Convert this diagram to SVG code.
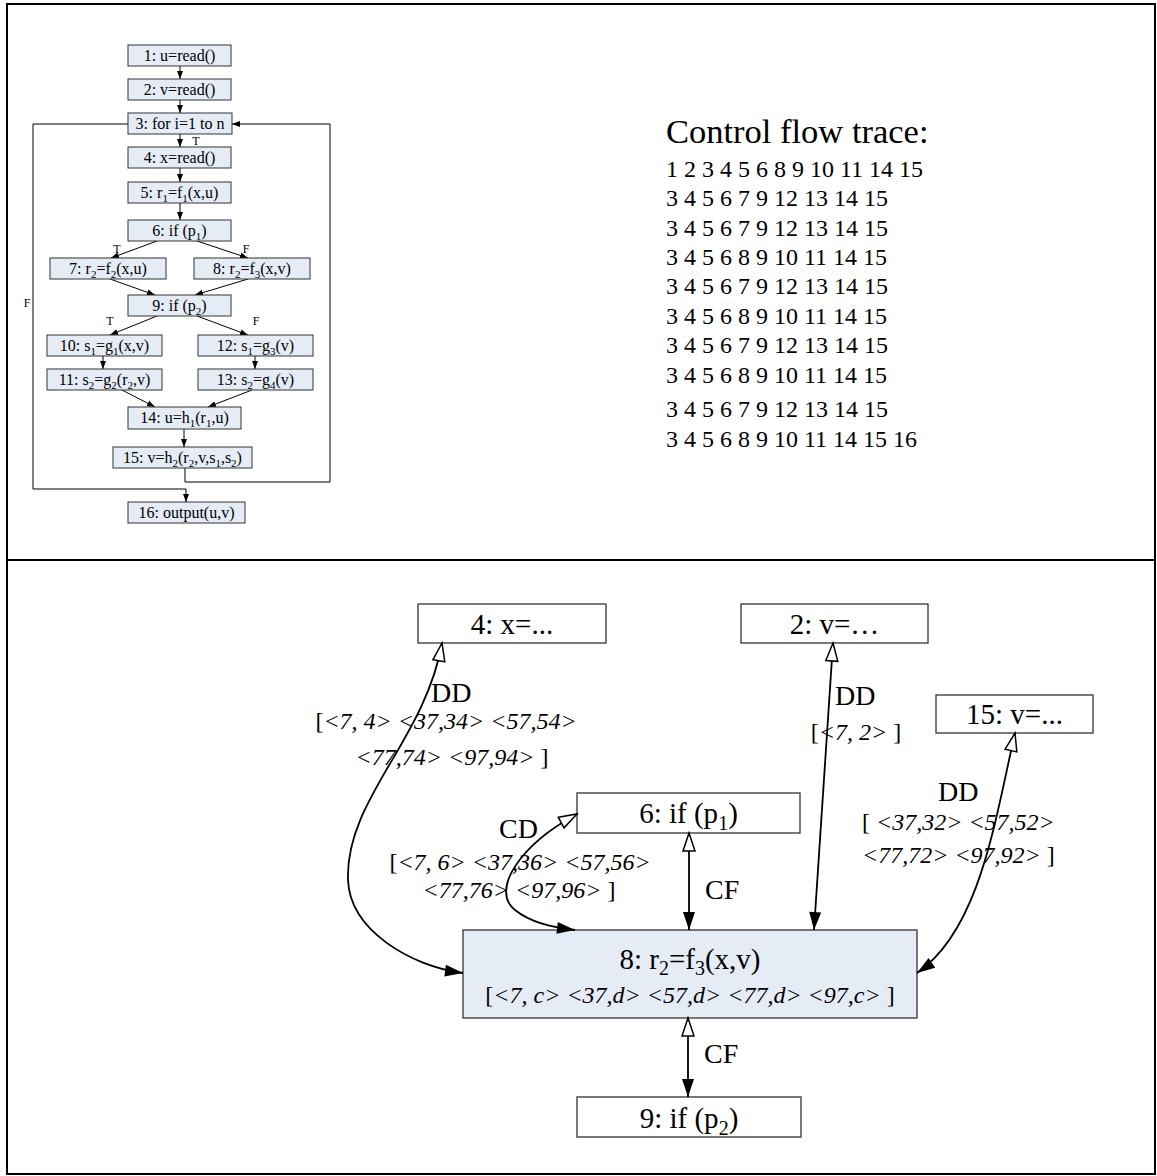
<svg xmlns="http://www.w3.org/2000/svg" width="1157" height="1176" viewBox="0 0 1157 1176" font-family="'Liberation Serif', 'DejaVu Serif', serif">
<style>
.bg{fill:#fff}
.frame{stroke:#000;stroke-width:2;fill:none}
.fb{fill:#e6ecf6;stroke:#333;stroke-width:1}
.ft{font-family:"Liberation Serif","DejaVu Serif",serif;font-size:16px;text-anchor:middle;fill:#000}
.fl{font-family:"Liberation Serif","DejaVu Serif",serif;font-size:12px;text-anchor:middle;fill:#000}
.fe{stroke:#000;stroke-width:1;fill:none;marker-end:url(#sa)}
.tr{font-family:"Liberation Serif","DejaVu Serif",serif;font-size:24px;fill:#000}
.th{font-family:"Liberation Serif","DejaVu Serif",serif;font-size:34.5px;fill:#000}
.wb{fill:#fff;stroke:#333;stroke-width:1.3}
.hb{fill:#e6ecf6;stroke:#333;stroke-width:1.3}
.bt{font-family:"Liberation Serif","DejaVu Serif",serif;font-size:29px;text-anchor:middle;fill:#000}
.lb{font-family:"Liberation Serif","DejaVu Serif",serif;font-size:28px;fill:#000}
.it{font-family:"Liberation Serif","DejaVu Serif",serif;font-size:24px;fill:#000}
.i{font-style:italic}
.ce{stroke:#000;stroke-width:1.8;fill:none;marker-start:url(#ho);marker-end:url(#fi)}
</style>
<defs>
<marker id="sa" markerUnits="userSpaceOnUse" markerWidth="8" markerHeight="8" viewBox="0 0 8 8" refX="8" refY="4" orient="auto"><path d="M0,1 L8,4 L0,7 z" fill="#000"/></marker>
<marker id="fi" markerUnits="userSpaceOnUse" markerWidth="20" markerHeight="14" viewBox="0 0 20 14" refX="19" refY="7" orient="auto"><path d="M1,1 L19,7 L1,13 z" fill="#000"/></marker>
<marker id="ho" markerUnits="userSpaceOnUse" markerWidth="22" markerHeight="16" viewBox="0 0 22 16" refX="20" refY="8" orient="auto-start-reverse"><path d="M2,2 L20,8 L2,14 z" fill="#fff" stroke="#000" stroke-width="1.5"/></marker>
</defs>
<rect class="bg" x="0" y="0" width="1157" height="1176"/>
<g id="frame">
<rect class="frame" x="7" y="4" width="1148" height="1170"/>
<line class="frame" x1="7" y1="560" x2="1155" y2="560"/>
</g>

<!-- top-left flowchart -->
<g id="flow-edges">
<line class="fe" x1="180" y1="66" x2="180" y2="79"/>
<line class="fe" x1="180" y1="100" x2="180" y2="113"/>
<line class="fe" x1="180" y1="134" x2="180" y2="147"/>
<line class="fe" x1="180" y1="168" x2="180" y2="182"/>
<line class="fe" x1="180" y1="203" x2="180" y2="220"/>
<line class="fe" x1="157" y1="241" x2="111" y2="258"/>
<line class="fe" x1="197" y1="241" x2="248" y2="258"/>
<line class="fe" x1="110" y1="279" x2="155" y2="295"/>
<line class="fe" x1="248" y1="279" x2="195" y2="295"/>
<line class="fe" x1="157" y1="316" x2="110" y2="335"/>
<line class="fe" x1="197" y1="316" x2="248" y2="335"/>
<line class="fe" x1="103" y1="356" x2="103" y2="369"/>
<line class="fe" x1="255" y1="356" x2="255" y2="369"/>
<line class="fe" x1="122" y1="390" x2="155" y2="407"/>
<line class="fe" x1="252" y1="390" x2="208" y2="407"/>
<line class="fe" x1="184" y1="429" x2="184" y2="447"/>
<polyline class="fe" points="185,468 185,482 330,482 330,124 232,124"/>
<polyline class="fe" points="128,124 33,124 33,489 186,489 186,502"/>
<text class="fl" x="196" y="145">T</text>
<text class="fl" x="117" y="253">T</text>
<text class="fl" x="246" y="253">F</text>
<text class="fl" x="110" y="325">T</text>
<text class="fl" x="256" y="325">F</text>
<text class="fl" x="27" y="307">F</text>
</g>
<g id="f1"><rect class="fb" x="128" y="45" width="103" height="21"/><text class="ft" x="179.5" y="61">1: u=read()</text></g>
<g id="f2"><rect class="fb" x="128" y="79" width="103" height="21"/><text class="ft" x="179.5" y="95">2: v=read()</text></g>
<g id="f3"><rect class="fb" x="128" y="113" width="104" height="21"/><text class="ft" x="180" y="129">3: for i=1 to n</text></g>
<g id="f4"><rect class="fb" x="128" y="147" width="103" height="21"/><text class="ft" x="179.5" y="163">4: x=read()</text></g>
<g id="f5"><rect class="fb" x="128" y="182" width="103" height="21"/><text class="ft" x="179.5" y="198">5: r<tspan dy="4" font-size="11">1</tspan><tspan dy="-4">=f</tspan><tspan dy="4" font-size="11">1</tspan><tspan dy="-4">(x,u)</tspan></text></g>
<g id="f6"><rect class="fb" x="128" y="220" width="103" height="21"/><text class="ft" x="179.5" y="236">6: if (p<tspan dy="4" font-size="11">1</tspan><tspan dy="-4">)</tspan></text></g>
<g id="f7"><rect class="fb" x="50" y="258" width="116" height="21"/><text class="ft" x="108" y="274">7: r<tspan dy="4" font-size="11">2</tspan><tspan dy="-4">=f</tspan><tspan dy="4" font-size="11">2</tspan><tspan dy="-4">(x,u)</tspan></text></g>
<g id="f8"><rect class="fb" x="194" y="258" width="116" height="21"/><text class="ft" x="252" y="274">8: r<tspan dy="4" font-size="11">2</tspan><tspan dy="-4">=f</tspan><tspan dy="4" font-size="11">3</tspan><tspan dy="-4">(x,v)</tspan></text></g>
<g id="f9"><rect class="fb" x="128" y="295" width="103" height="21"/><text class="ft" x="179.5" y="311">9: if (p<tspan dy="4" font-size="11">2</tspan><tspan dy="-4">)</tspan></text></g>
<g id="f10"><rect class="fb" x="47" y="335" width="115" height="21"/><text class="ft" x="104.5" y="351">10: s<tspan dy="4" font-size="11">1</tspan><tspan dy="-4">=g</tspan><tspan dy="4" font-size="11">1</tspan><tspan dy="-4">(x,v)</tspan></text></g>
<g id="f11"><rect class="fb" x="47" y="369" width="115" height="21"/><text class="ft" x="104.5" y="385">11: s<tspan dy="4" font-size="11">2</tspan><tspan dy="-4">=g</tspan><tspan dy="4" font-size="11">2</tspan><tspan dy="-4">(r</tspan><tspan dy="4" font-size="11">2</tspan><tspan dy="-4">,v)</tspan></text></g>
<g id="f12"><rect class="fb" x="198" y="335" width="115" height="21"/><text class="ft" x="255.5" y="351">12: s<tspan dy="4" font-size="11">1</tspan><tspan dy="-4">=g</tspan><tspan dy="4" font-size="11">3</tspan><tspan dy="-4">(v)</tspan></text></g>
<g id="f13"><rect class="fb" x="198" y="369" width="115" height="21"/><text class="ft" x="255.5" y="385">13: s<tspan dy="4" font-size="11">2</tspan><tspan dy="-4">=g</tspan><tspan dy="4" font-size="11">4</tspan><tspan dy="-4">(v)</tspan></text></g>
<g id="f14"><rect class="fb" x="128" y="407" width="113" height="22"/><text class="ft" x="184.5" y="423">14: u=h<tspan dy="4" font-size="11">1</tspan><tspan dy="-4">(r</tspan><tspan dy="4" font-size="11">1</tspan><tspan dy="-4">,u)</tspan></text></g>
<g id="f15"><rect class="fb" x="113" y="447" width="139" height="21"/><text class="ft" x="182.5" y="463">15: v=h<tspan dy="4" font-size="11">2</tspan><tspan dy="-4">(r</tspan><tspan dy="4" font-size="11">2</tspan><tspan dy="-4">,v,s</tspan><tspan dy="4" font-size="11">1</tspan><tspan dy="-4">,s</tspan><tspan dy="4" font-size="11">2</tspan><tspan dy="-4">)</tspan></text></g>
<g id="f16"><rect class="fb" x="128" y="502" width="117" height="21"/><text class="ft" x="186.5" y="518">16: output(u,v)</text></g>

<!-- trace -->
<g id="trace">
<text class="th" x="666" y="143">Control flow trace:</text>
<text class="tr" x="666" y="177">1 2 3 4 5 6 8 9 10 11 14 15</text>
<text class="tr" x="666" y="206">3 4 5 6 7 9 12 13 14 15</text>
<text class="tr" x="666" y="236">3 4 5 6 7 9 12 13 14 15</text>
<text class="tr" x="666" y="265">3 4 5 6 8 9 10 11 14 15</text>
<text class="tr" x="666" y="294">3 4 5 6 7 9 12 13 14 15</text>
<text class="tr" x="666" y="324">3 4 5 6 8 9 10 11 14 15</text>
<text class="tr" x="666" y="353">3 4 5 6 7 9 12 13 14 15</text>
<text class="tr" x="666" y="383">3 4 5 6 8 9 10 11 14 15</text>
<text class="tr" x="666" y="417">3 4 5 6 7 9 12 13 14 15</text>
<text class="tr" x="666" y="447">3 4 5 6 8 9 10 11 14 15 16</text>
</g>

<!-- bottom graph -->
<g id="n4"><rect class="wb" x="418" y="604" width="188" height="39"/><text class="bt" x="512" y="634">4: x=...</text></g>
<g id="n2"><rect class="wb" x="741" y="604" width="187" height="39"/><text class="bt" x="834.5" y="634">2: v=…</text></g>
<g id="n15"><rect class="wb" x="936" y="695" width="157" height="38"/><text class="bt" x="1014.5" y="724">15: v=...</text></g>
<g id="n6"><rect class="wb" x="577" y="793" width="223" height="40"/><text class="bt" x="688.5" y="823">6: if (p<tspan dy="7" font-size="20">1</tspan><tspan dy="-7">)</tspan></text></g>
<g id="n8"><rect class="hb" x="463" y="930" width="454" height="88"/>
<text class="bt" x="690" y="969" font-size="30">8: r<tspan dy="6" font-size="20">2</tspan><tspan dy="-6">=f</tspan><tspan dy="6" font-size="20">3</tspan><tspan dy="-6">(x,v)</tspan></text>
<text class="it" x="690" y="1003" text-anchor="middle" font-size="25">[<tspan class="i">&lt;7, c&gt; &lt;37,d&gt; &lt;57,d&gt; &lt;77,d&gt; &lt;97,c&gt;</tspan> ]</text></g>
<g id="n9"><rect class="wb" x="577" y="1097" width="224" height="40"/><text class="bt" x="689" y="1128">9: if (p<tspan dy="7" font-size="20">2</tspan><tspan dy="-7">)</tspan></text></g>

<g id="connectors">
<path class="ce" d="M442,643 C425,740 345,800 348,880 C350,930 410,966 463,973"/>
<path class="ce" d="M833,643 L814,930"/>
<path class="ce" d="M1015,733 C995,820 980,930 917,973"/>
<path class="ce" d="M577,814 C520,845 490,890 515,910 C530,922 550,927 575,930"/>
<path class="ce" d="M689,833 L689,930"/>
<path class="ce" d="M688,1018 L688,1097"/>
</g>
<g id="labels">
<text class="lb" x="431" y="702">DD</text>
<text class="it" x="446" y="729" text-anchor="middle">[<tspan class="i">&lt;7, 4&gt; &lt;37,34&gt; &lt;57,54&gt;</tspan></text>
<text class="it" x="452" y="765" text-anchor="middle"><tspan class="i">&lt;77,74&gt; &lt;97,94&gt;</tspan> ]</text>
<text class="lb" x="835" y="705">DD</text>
<text class="it" x="856" y="740" text-anchor="middle">[<tspan class="i">&lt;7, 2&gt;</tspan> ]</text>
<text class="lb" x="938" y="801">DD</text>
<text class="it" x="862" y="830">[ <tspan class="i">&lt;37,32&gt; &lt;57,52&gt;</tspan></text>
<text class="it" x="862" y="863"><tspan class="i">&lt;77,72&gt; &lt;97,92&gt;</tspan> ]</text>
<text class="lb" x="499" y="838">CD</text>
<text class="it" x="520" y="870" text-anchor="middle">[<tspan class="i">&lt;7, 6&gt; &lt;37,36&gt; &lt;57,56&gt;</tspan></text>
<text class="it" x="519" y="898" text-anchor="middle"><tspan class="i">&lt;77,76&gt; &lt;97,96&gt;</tspan> ]</text>
<text class="lb" x="705" y="899">CF</text>
<text class="lb" x="704" y="1063">CF</text>
</g>
</svg>
